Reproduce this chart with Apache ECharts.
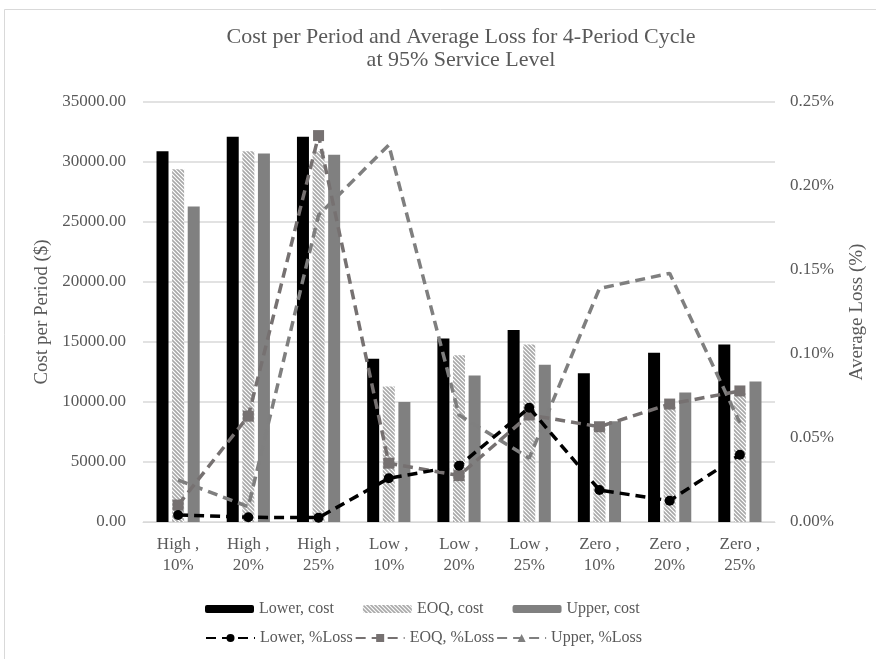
<!DOCTYPE html>
<html>
<head>
<meta charset="utf-8">
<script src="https://cdn.jsdelivr.net/npm/echarts@6/dist/echarts.min.js"></script>
<style>
  html, body { margin: 0; padding: 0; background: #fff; }
  #main { width: 876px; height: 659px; }
</style>
</head>
<body>
<div id="main"></div>
<script>
const categories = ['High ,\n10%', 'High ,\n20%', 'High ,\n25%', 'Low ,\n10%', 'Low ,\n20%', 'Low ,\n25%', 'Zero ,\n10%', 'Zero ,\n20%', 'Zero ,\n25%']
const lowerCost = [30900, 32100, 32100, 13600, 15300, 16000, 12400, 14100, 14800]
const eoqCost = [29400, 30900, 30900, 11300, 13900, 14800, 8000, 9600, 10700]
const upperCost = [26300, 30700, 30600, 10000, 12200, 13100, 8400, 10800, 11700]
const lowerLoss = [0.0042, 0.0028, 0.0026, 0.026, 0.0335, 0.068, 0.019, 0.0127, 0.040]
const eoqLoss = [0.0101, 0.063, 0.230, 0.035, 0.0276, 0.0637, 0.0567, 0.0702, 0.078]
const upperLoss = [0.025, 0.0091, 0.1827, 0.2244, 0.0637, 0.038, 0.139, 0.148, 0.059]
const leftTicks = [0, 5000, 35000]
const rightTicks = [0, 0.05, 0.25]

const font = 'Liberation Serif'
const textColor = '#595959'

// diagonal hatch for the EOQ bars
function hatch() {
    const c = document.createElement('canvas')
    c.width = 4
    c.height = 4
    const ctx = c.getContext('2d')
    ctx.fillStyle = '#ffffff'
    ctx.fillRect(0, 0, 4, 4)
    ctx.strokeStyle = '#a8a8a8'
    ctx.lineWidth = 1.6
    ctx.beginPath()
    ctx.moveTo(-1, -1); ctx.lineTo(5, 5)
    ctx.moveTo(-1, 3); ctx.lineTo(1, 5)
    ctx.moveTo(3, -1); ctx.lineTo(5, 1)
    ctx.stroke()
    return c
}

const option = {
    animation: false,
    backgroundColor: '#fff',
    textStyle: { fontFamily: font, color: textColor },
    graphic: [{
        type: 'rect',
        shape: { x: 4.5, y: 9.5, width: 900, height: 700 },
        style: { fill: 'none', stroke: '#d9d9d9', lineWidth: 1 },
        z: -1
    }],
    title: {
        text: 'Cost per Period and Average Loss for 4-Period Cycle\nat 95% Service Level',
        left: 456,
        textAlign: 'center',
        top: 21,
        textStyle: { fontFamily: font, fontSize: 22, fontWeight: 'normal', color: textColor, lineHeight: 23 }
    },
    grid: { left: 143, right: 101, top: 102, bottom: 137 },
    legend: [{
        data: ['Lower, cost', 'EOQ, cost', 'Upper, cost'],
        top: 596,
        left: 200,
        itemWidth: 49,
        itemHeight: 8,
        itemGap: 29,
        selectedMode: false,
        textStyle: { fontFamily: font, fontSize: 16, color: textColor }
    }, {
        data: ['Lower, %Loss', 'EOQ, %Loss', 'Upper, %Loss'],
        top: 625,
        left: 200,
        itemWidth: 49,
        itemHeight: 10,
        itemGap: 2,
        selectedMode: false,
        textStyle: { fontFamily: font, fontSize: 16, color: textColor }
    }],
    xAxis: {
        type: 'category',
        data: categories,
        axisLine: { lineStyle: { color: '#d9d9d9' } },
        axisTick: { show: false },
        axisLabel: { fontFamily: font, fontSize: 17, color: textColor, lineHeight: 21, margin: 12, interval: 0 }
    },
    yAxis: [{
        type: 'value',
        min: leftTicks[0],
        max: leftTicks[2],
        interval: leftTicks[1],
        name: 'Cost per Period ($)',
        nameLocation: 'middle',
        nameGap: 87,
        nameTextStyle: { fontFamily: font, fontSize: 19, color: textColor },
        axisLine: { show: false },
        axisTick: { show: false },
        axisLabel: { fontFamily: font, fontSize: 17, color: textColor, margin: 17, formatter: v => v.toFixed(2) },
        splitLine: { lineStyle: { color: '#d9d9d9', width: 1.5 } }
    }, {
        type: 'value',
        min: rightTicks[0],
        max: rightTicks[2],
        interval: rightTicks[1],
        name: 'Average Loss (%)',
        nameLocation: 'middle',
        nameGap: 73,
        nameRotate: 90,
        nameTextStyle: { fontFamily: font, fontSize: 19, color: textColor },
        axisLine: { show: false },
        axisTick: { show: false },
        axisLabel: { fontFamily: font, fontSize: 17, color: textColor, margin: 15, formatter: v => v.toFixed(2) + '%' },
        splitLine: { show: false }
    }],
    series: [{
        name: 'Lower, cost',
        type: 'bar',
        data: lowerCost,
        barWidth: 12,
        barGap: '30%',
        itemStyle: { color: '#000000' }
    }, {
        name: 'EOQ, cost',
        type: 'bar',
        data: eoqCost,
        barWidth: 12,
        barGap: '30%',
        itemStyle: { color: { image: hatch(), repeat: 'repeat' } }
    }, {
        name: 'Upper, cost',
        type: 'bar',
        data: upperCost,
        barWidth: 12,
        barGap: '30%',
        itemStyle: { color: '#808080' }
    }, {
        name: 'Lower, %Loss',
        type: 'line',
        yAxisIndex: 1,
        data: lowerLoss,
        symbol: 'circle',
        symbolSize: 10,
        z: 5,
        itemStyle: { color: '#000000' },
        lineStyle: { color: '#000000', width: 3.5, type: [10, 6] }
    }, {
        name: 'EOQ, %Loss',
        type: 'line',
        yAxisIndex: 1,
        data: eoqLoss,
        symbol: 'rect',
        symbolSize: 11,
        z: 4,
        itemStyle: { color: '#767171' },
        lineStyle: { color: '#767171', width: 3.5, type: [10, 6] }
    }, {
        name: 'Upper, %Loss',
        type: 'line',
        yAxisIndex: 1,
        data: upperLoss,
        symbol: 'triangle',
        symbolSize: 7,
        showSymbol: false,
        z: 3,
        itemStyle: { color: '#7f7f7f' },
        lineStyle: { color: '#7f7f7f', width: 3.5, type: [10, 6] }
    }]
}

try {
    const chart = echarts.init(document.getElementById('main'))
    chart.setOption(option, true)
} catch (e) {}
</script>
</body>
</html>
